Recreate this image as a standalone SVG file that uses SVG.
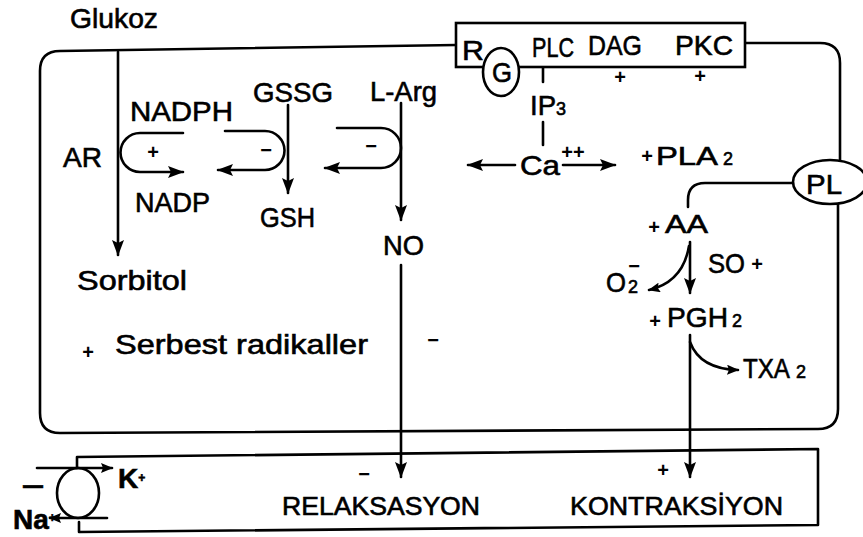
<svg xmlns="http://www.w3.org/2000/svg" width="863" height="537" viewBox="0 0 863 537">
<style>
.t{font-family:"Liberation Sans",Arial,sans-serif;font-size:28px;fill:#000;stroke:#000;stroke-width:0.6}
.s{font-size:25px}
.sub{font-size:18px}
.sign{font-family:"Liberation Sans",Arial,sans-serif;font-size:20px;font-weight:bold;fill:#000;text-anchor:middle}
.ln{stroke:#000;stroke-width:2.6;fill:none;stroke-linecap:round;stroke-linejoin:round}
.shape{stroke:#000;stroke-width:2.6;fill:#fff}
</style>
<defs>
<marker id="ah" markerUnits="userSpaceOnUse" markerWidth="16" markerHeight="12" refX="15" refY="6" orient="auto">
<path d="M0,0 L16,6 L0,12 L3,6 z" fill="#000"/>
</marker>
<marker id="ahs" markerUnits="userSpaceOnUse" markerWidth="12" markerHeight="10" refX="11" refY="5" orient="auto">
<path d="M0,0 L12,5 L0,10 L2,5 z" fill="#000"/>
</marker>
</defs>
<rect width="863" height="537" fill="#fff"/>

<g id="cell">
<path class="ln" d="M456 45 L60 51 Q40 51 40 71 L40 413 Q40 433 60 433 L818 429 Q838 429 838 409 L838 204"/>
<path class="ln" d="M745 43 L820 43 Q840 43 840 63 L840 160"/>
</g>

<g id="receptor">
<rect class="shape" x="456" y="23" width="289" height="44"/>
<text class="t" x="462" y="60" textLength="22" lengthAdjust="spacingAndGlyphs">R</text>
<text class="t" x="532" y="57" textLength="42" lengthAdjust="spacingAndGlyphs">PLC</text>
<text class="t" x="588" y="55" textLength="54" lengthAdjust="spacingAndGlyphs">DAG</text>
<text class="t" x="675" y="55" textLength="58" lengthAdjust="spacingAndGlyphs">PKC</text>
</g>
<g id="gprotein">
<ellipse class="shape" cx="501" cy="72" rx="18" ry="24"/>
<text class="t" x="492" y="82" font-size="26" textLength="20" lengthAdjust="spacingAndGlyphs">G</text>
</g>
<g id="pl">
<ellipse class="shape" cx="830" cy="182" rx="37" ry="22"/>
<text class="t" x="806" y="194" textLength="36" lengthAdjust="spacingAndGlyphs">PL</text>
</g>

<g id="connectors">
<path class="ln" d="M118 52 V255" marker-end="url(#ah)"/>
<path class="ln" d="M183 133 H140 A19.5 19.5 0 0 0 140 172 H183" marker-end="url(#ah)"/>
<path class="ln" d="M225 131 H265 A19.5 19.5 0 0 1 265 170 H218" marker-end="url(#ah)"/>
<path class="ln" d="M337 128 H381 A20 20 0 0 1 381 168 H325" marker-end="url(#ah)"/>
<path class="ln" d="M288 105 V193" marker-end="url(#ah)"/>
<path class="ln" d="M401 103 V220" marker-end="url(#ah)"/>
<path class="ln" d="M401 265 V477" marker-end="url(#ah)"/>
<path class="ln" d="M543 68 V82"/>
<path class="ln" d="M543 122 V145"/>
<path class="ln" d="M515 165 H468" marker-end="url(#ah)"/>
<path class="ln" d="M563 165 H615" marker-end="url(#ah)"/>
<path class="ln" d="M793 183 H705 Q688 183 688 200 V207"/>
<path class="ln" d="M690 242 V293" marker-end="url(#ah)"/>
<path class="ln" d="M689 246 Q683 282 649 290" marker-end="url(#ahs)"/>
<path class="ln" d="M690 335 V477" marker-end="url(#ah)"/>
<path class="ln" d="M690 342 Q700 369 738 370" marker-end="url(#ahs)"/>
<path class="ln" d="M37 468 H112" marker-end="url(#ahs)"/>
<path class="ln" d="M107 518 H50" marker-end="url(#ahs)"/>
</g>

<g id="muscle">
<path class="ln" d="M77 468 V457 L818 449 L818 525 L79 532 V522"/>
<ellipse cx="78" cy="493" rx="21" ry="25" fill="none" stroke="#000" stroke-width="2.6"/>
<text class="t" x="23" y="494" font-size="26" font-weight="bold" textLength="20" lengthAdjust="spacingAndGlyphs">—</text>
<text class="t" x="118" y="488" font-size="16" font-weight="bold">K<tspan font-size="12" dy="-6">+</tspan></text>
<text class="t" x="13" y="529" font-size="15" font-weight="bold">Na<tspan font-size="12" dy="-7">+</tspan></text>
<text class="t s" x="282" y="515" textLength="198" lengthAdjust="spacingAndGlyphs">RELAKSASYON</text>
<text class="t s" x="570" y="515" textLength="213" lengthAdjust="spacingAndGlyphs">KONTRAKSİYON</text>
<text class="sign" x="364" y="481">−</text>
<text class="sign" x="663" y="477">+</text>
</g>

<g id="labels">
<text class="t" x="70" y="28" textLength="88" lengthAdjust="spacingAndGlyphs">Glukoz</text>
<text class="t" x="63" y="167" textLength="39" lengthAdjust="spacingAndGlyphs">AR</text>
<text class="t" x="130" y="121" textLength="103" lengthAdjust="spacingAndGlyphs">NADPH</text>
<text class="t" x="135" y="212" textLength="75" lengthAdjust="spacingAndGlyphs">NADP</text>
<text class="t" x="253" y="102" textLength="80" lengthAdjust="spacingAndGlyphs">GSSG</text>
<text class="t" x="260" y="227" textLength="55" lengthAdjust="spacingAndGlyphs">GSH</text>
<text class="t" x="370" y="101" textLength="67" lengthAdjust="spacingAndGlyphs">L-Arg</text>
<text class="t" x="383" y="255" textLength="41" lengthAdjust="spacingAndGlyphs">NO</text>
<text class="t" x="77" y="290" textLength="110" lengthAdjust="spacingAndGlyphs">Sorbitol</text>
<text class="sign" x="88" y="359">+</text>
<text class="t" x="115" y="354" textLength="253" lengthAdjust="spacingAndGlyphs">Serbest radikaller</text>
<text class="sign" x="433" y="347">−</text>
<text class="sign" x="153" y="159">+</text>
<text class="sign" x="266" y="157">−</text>
<text class="sign" x="371" y="153">−</text>
<text class="sign" x="620" y="84">+</text>
<text class="sign" x="700" y="83">+</text>
<text class="t" x="530" y="115" textLength="26" lengthAdjust="spacingAndGlyphs">IP</text>
<text class="t sub" x="556" y="115">3</text>
<text class="t" x="520" y="175" font-size="30" textLength="40" lengthAdjust="spacingAndGlyphs">Ca</text>
<text class="sign" x="573" y="159" font-size="14">++</text>
<text class="sign" x="647" y="163">+</text>
<text class="t s" x="656" y="165" textLength="62" lengthAdjust="spacingAndGlyphs">PLA</text>
<text class="t sub" x="723" y="165">2</text>
<text class="sign" x="654" y="234">+</text>
<text class="t s" x="665" y="233" textLength="43" lengthAdjust="spacingAndGlyphs">AA</text>
<text class="t" x="708" y="273" font-size="27" textLength="37" lengthAdjust="spacingAndGlyphs">SO</text>
<text class="sign" x="757" y="271">+</text>
<text class="t" x="606" y="292" font-size="27" textLength="20" lengthAdjust="spacingAndGlyphs">O</text>
<text class="t sub" x="628" y="293">2</text>
<text class="sign" x="634" y="273" font-size="16">−</text>
<text class="sign" x="655" y="328">+</text>
<text class="t" x="667" y="327" textLength="61" lengthAdjust="spacingAndGlyphs">PGH</text>
<text class="t sub" x="732" y="327">2</text>
<text class="t" x="743" y="378" font-size="27" textLength="47" lengthAdjust="spacingAndGlyphs">TXA</text>
<text class="t sub" x="796" y="378">2</text>
</g>
</svg>
